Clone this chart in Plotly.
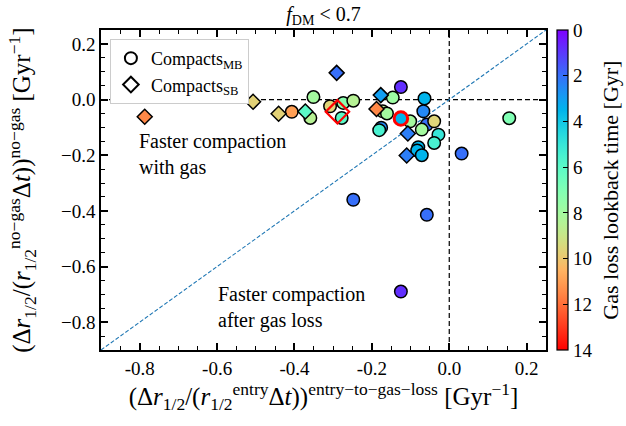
import math
import plotly.graph_objects as go

# ---- data ----
# Compacts_MB (circles): x, y, gas-loss lookback time [Gyr]
mb_x = [-0.407, -0.351, -0.359, -0.308, -0.274, -0.248, -0.278, -0.146, -0.125,
        -0.172, -0.161, -0.176, -0.181, -0.101, -0.064, -0.067, -0.058, -0.071,
        -0.039, -0.028, -0.039, -0.080, -0.083, -0.071, 0.032, 0.155, -0.248,
        -0.058, -0.125]
mb_y = [-0.044, 0.009, -0.066, -0.024, -0.012, -0.004, -0.066, 0.007, 0.045,
        -0.042, -0.050, -0.101, -0.110, -0.078, 0.004, -0.042, -0.090, -0.108,
        -0.078, -0.126, -0.156, -0.171, -0.183, -0.200, -0.194, -0.067, -0.360,
        -0.414, -0.690]
mb_t = [11.0, 8.0, 8.5, 9.6, 7.3, 8.5, 6.0, 7.8, 0.8,
        8.6, 8.0, 2.5, 5.5, 8.0, 3.5, 2.5, 2.0, 8.0,
        9.6, 5.0, 5.5, 3.5, 3.5, 3.5, 2.0, 7.0, 2.0,
        2.0, 0.8]

# Compacts_SB (diamonds)
sb_x = [-0.787, -0.507, -0.441, -0.372, -0.291, -0.177, -0.188, -0.107, -0.110]
sb_y = [-0.062, -0.008, -0.051, -0.043, 0.096, 0.016, -0.034, -0.122, -0.201]
sb_t = [11.5, 9.7, 9.7, 6.0, 2.0, 3.0, 11.5, 2.3, 2.3]

# highlighted objects
hl_mb_x, hl_mb_y, hl_mb_t = [-0.125], [-0.068], [3.5]
hl_sb_x, hl_sb_y = [-0.289], [-0.044]

axis_range = [-0.9, 0.25]
x_ticks = [-0.8, -0.6, -0.4, -0.2, 0.0, 0.2]
y_ticks = [-0.8, -0.6, -0.4, -0.2, 0.0, 0.2]
cb_ticks = [0, 2, 4, 6, 8, 10, 12, 14]
t_max = 14

FONT = "Liberation Serif"


def rainbow(x):
    r = min(1.0, abs(2 * x - 0.5))
    g = math.sin(math.pi * x)
    b = math.cos(math.pi * x / 2)
    return "rgb(%d,%d,%d)" % (round(255 * r), round(255 * g), round(255 * max(b, 0)))


# colour axis uses -t so that 0 is at the top of the colorbar
n = 28
colorscale = [[i / n, rainbow(1 - i / n)] for i in range(n + 1)]

fig = go.Figure()

common_marker_line = dict(color="black", width=1.5)

fig.add_trace(go.Scatter(
    x=mb_x, y=mb_y, mode="markers", showlegend=False,
    marker=dict(symbol="circle", size=12.5, color=[-t for t in mb_t],
                coloraxis="coloraxis", line=common_marker_line)))
fig.add_trace(go.Scatter(
    x=sb_x, y=sb_y, mode="markers", showlegend=False,
    marker=dict(symbol="diamond", size=11.5, color=[-t for t in sb_t],
                coloraxis="coloraxis", line=common_marker_line)))
fig.add_trace(go.Scatter(
    x=hl_mb_x, y=hl_mb_y, mode="markers", showlegend=False,
    marker=dict(symbol="circle", size=13.5, color=[-t for t in hl_mb_t],
                coloraxis="coloraxis", line=dict(color="red", width=3))))
fig.add_trace(go.Scatter(
    x=hl_sb_x, y=hl_sb_y, mode="markers", showlegend=False,
    marker=dict(symbol="diamond-open", size=18, color="red",
                line=dict(color="red", width=2.2))))

# legend entries
fig.add_trace(go.Scatter(
    x=[None], y=[None], mode="markers", name="Compacts<sub>MB</sub>",
    marker=dict(symbol="circle", size=12, color="white",
                line=dict(color="black", width=1.5))))
fig.add_trace(go.Scatter(
    x=[None], y=[None], mode="markers", name="Compacts<sub>SB</sub>",
    marker=dict(symbol="diamond", size=11, color="white",
                line=dict(color="black", width=1.5))))

# reference lines
fig.add_shape(type="line", x0=axis_range[0], x1=axis_range[1], y0=0, y1=0,
              line=dict(color="black", width=1.2, dash="5px,3px"), layer="below")
fig.add_shape(type="line", x0=0, x1=0, y0=axis_range[0], y1=axis_range[1],
              line=dict(color="black", width=1.2, dash="5px,3px"), layer="below")
fig.add_shape(type="line", x0=axis_range[0], y0=axis_range[0],
              x1=axis_range[1], y1=axis_range[1],
              line=dict(color="#1f77b4", width=1.1, dash="4px,2px"), layer="below")

fig.add_annotation(x=-0.806, y=-0.198, xref="x", yref="y",
                   text="Faster compaction<br>with gas", showarrow=False,
                   xanchor="left", yanchor="middle", align="left",
                   font=dict(family=FONT, size=20, color="black"))
fig.add_annotation(x=-0.602, y=-0.748, xref="x", yref="y",
                   text="Faster compaction<br>after gas loss", showarrow=False,
                   xanchor="left", yanchor="middle", align="left",
                   font=dict(family=FONT, size=20, color="black"))

# y-axis title and colorbar title as annotations for exact placement
fig.add_annotation(x=-0.178, y=0.5, xref="paper", yref="paper",
                   text="(Δ<i>r</i><sub>1/2</sub>/(<i>r</i><sub>1/2</sub><sup>no−gas</sup>Δ<i>t</i>))"
                        "<sup>no−gas</sup> [Gyr<sup>−1</sup>]",
                   textangle=-90, showarrow=False, xanchor="center", yanchor="middle",
                   font=dict(family=FONT, size=25, color="black"))
fig.add_annotation(x=1.143, y=0.5, xref="paper", yref="paper",
                   text="Gas loss lookback time [Gyr]",
                   textangle=-90, showarrow=False, xanchor="center", yanchor="middle",
                   font=dict(family=FONT, size=22, color="black"))

axis_common = dict(
    range=axis_range, showgrid=False, zeroline=False, automargin=False,
    showline=True, linecolor="black", linewidth=1.5, mirror="allticks",
    ticks="inside", ticklen=7, tickwidth=1.5, tickcolor="black",
    minor=dict(ticks="inside", dtick=0.05, ticklen=4, tickwidth=1.2,
               tickcolor="black", showgrid=False),
    tickfont=dict(family=FONT, size=19, color="black"),
)

fig.update_layout(
    width=626, height=426,
    margin=dict(l=101, r=80, t=30, b=76),
    paper_bgcolor="white", plot_bgcolor="white",
    font=dict(family=FONT, color="black"),
    title=dict(text="<i>f</i><sub>DM</sub> < 0.7", x=0.5, xref="paper", xanchor="center",
               y=1, yref="paper", yanchor="bottom", pad=dict(b=9),
               font=dict(family=FONT, size=20, color="black")),
    xaxis=dict(**axis_common, tickvals=x_ticks,
               ticktext=["%.1f" % v for v in x_ticks],
               title=dict(text="(Δ<i>r</i><sub>1/2</sub>/(<i>r</i><sub>1/2</sub><sup>entry</sup>Δ<i>t</i>))"
                               "<sup>entry−to−gas−loss</sup> [Gyr<sup>−1</sup>]",
                          font=dict(family=FONT, size=25, color="black"), standoff=4)),
    yaxis=dict(**axis_common, tickvals=y_ticks,
               ticktext=[("−%.1f" % abs(v)) if v < 0 else "%.1f" % v for v in y_ticks]),
    coloraxis=dict(
        colorscale=colorscale, cmin=-t_max, cmax=0,
        colorbar=dict(
            x=1.025, xanchor="left", xref="paper", y=0, yanchor="bottom", len=1,
            lenmode="fraction", thickness=11, thicknessmode="pixels", xpad=0, ypad=0,
            outlinewidth=1.2, outlinecolor="black",
            tickvals=[-v for v in cb_ticks], ticktext=[str(v) for v in cb_ticks],
            ticks="inside", ticklen=5, tickcolor="black", tickwidth=1.2,
            tickfont=dict(family=FONT, size=19, color="black"),
        ),
    ),
    legend=dict(x=0.02, y=0.972, xanchor="left", yanchor="top",
                bgcolor="white", bordercolor="#cccccc", borderwidth=1,
                font=dict(family=FONT, size=18, color="black"),
                itemsizing="constant", tracegroupgap=0),
)

fig.write_html("out.html")
